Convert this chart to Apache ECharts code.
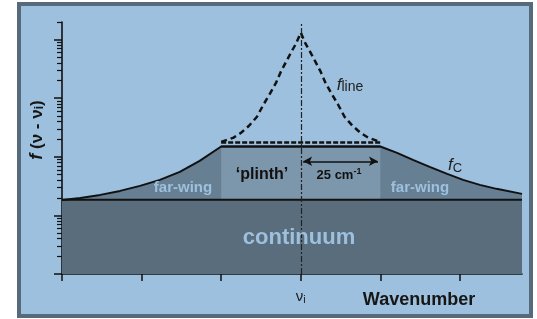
<!DOCTYPE html>
<html>
<head>
<meta charset="utf-8">
<script src="https://cdn.jsdelivr.net/npm/echarts@6/dist/echarts.min.js"></script>
<style>
  html, body { margin: 0; padding: 0; background: #fff; }
  #chart { width: 537px; height: 319px; }
</style>
</head>
<body>
<div id="chart"></div>
<script>
// wavenumber axis (arbitrary units, one tick per unit, line centre at 3)
const xMax = 5.78
const xTicks = [0, 1, 2, 3, 4, 5]
const lineCentre = 3

// log y axis ticks
const yMin = 1
const yMax = 20000
const majorTicks = [1, 10, 100, 1000, 10000]
const minorTicks = [
  2, 3, 4, 5, 6, 7, 8, 9,
  20, 30, 40, 50, 60, 70, 80, 90,
  200, 300, 400, 500, 600, 700, 800, 900,
  2000, 3000, 4000, 5000, 6000, 7000, 8000, 9000,
  20000,
]

// continuum level
const continuumX = [0, 5.78]
const continuumY = [18.5, 18.5]

// f_c : far-wing curve + plinth top
const fcX = [0, 0.23, 0.48, 0.73, 0.98, 1.23, 1.48, 1.73, 2.0, 4.0, 4.21, 4.41, 4.62, 4.84, 5.04, 5.25, 5.46, 5.78]
const fcY = [18.4, 19.9, 22.4, 26.2, 31.9, 40.4, 55.4, 85.5, 150, 150, 117, 88.9, 67.5, 51.2, 40.4, 33.2, 28.4, 23.3]

// plinth block
const plinthX = [2.0, 4.0]
const plinthY = [150, 150]

// dashed shoulder of f_line
const shoulderX = [2.0, 4.0]
const shoulderY = [176, 176]

// f_line peak
const lineX = [
  2.0, 2.15, 2.25, 2.35, 2.45, 2.53, 2.62, 2.69, 2.75, 2.81, 2.87, 2.94,
  3.0,
  3.06, 3.13, 3.19, 3.25, 3.31, 3.38, 3.47, 3.55, 3.65, 3.75, 3.85, 4.0,
]
const lineY = [
  180, 211, 257, 339, 483, 774, 1242, 1840, 2840, 4050, 5770, 8550,
  13180,
  8550, 5770, 4050, 2840, 1840, 1242, 774, 483, 339, 257, 211, 180,
]

// 25 cm-1 arrow
const arrowX = [3.03, 3.97]
const arrowY = 84

const zip = (xs, ys) => xs.map((x, i) => [x, ys[i]])

const FONT = 'Liberation Sans, Arial, sans-serif'
const frameBlue = '#9cc0dd'
const colors = {
  continuum: '#5a6d7d',
  farWing: '#677f93',
  plinth: '#7c96ab',
  border: '#566a7b',
}

const chart = echarts.init(document.getElementById('chart'))

chart.setOption({
  animation: false,
  backgroundColor: '#fff',
  grid: { left: 62, right: 15, top: 22, bottom: 45, containLabel: false, outerBoundsMode: 'none' },
  xAxis: {
    type: 'value',
    min: 0,
    max: xMax,
    name: 'Wavenumber',
    nameLocation: 'middle',
    nameGap: 17,
    nameMoveOverlap: false,
    nameTextStyle: {
      fontFamily: FONT,
      fontSize: 18,
      fontWeight: 'bold',
      color: '#161616',
      padding: [0, 0, 0, 254],
    },
    axisLine: { lineStyle: { color: '#111', width: 1.6 } },
    axisTick: {
      customValues: xTicks,
      length: 7,
      lineStyle: { color: '#111', width: 1.5 },
    },
    axisLabel: {
      customValues: [lineCentre],
      margin: 14,
      formatter: () => '{n|ν}{s|i}',
      rich: {
        n: { fontFamily: FONT, fontSize: 15, color: '#222' },
        s: { fontFamily: FONT, fontSize: 11, color: '#222', padding: [6, 0, 0, 0] },
      },
    },
    splitLine: { show: false },
  },
  yAxis: [
    {
      type: 'log',
      logBase: 10,
      min: yMin,
      max: yMax,
      position: 'left',
      name: '{fi|f} (ν - ν{s|i})',
      nameLocation: 'middle',
      nameGap: 16,
      nameMoveOverlap: false,
      nameTextStyle: {
        fontFamily: FONT,
        fontSize: 17,
        fontWeight: 'bold',
        color: '#161616',
        padding: [0, 0, 0, 36],
        rich: {
          fi: { fontFamily: FONT, fontSize: 18, fontWeight: 'bold', fontStyle: 'italic', color: '#161616' },
          s: { fontFamily: FONT, fontSize: 12, fontWeight: 'bold', color: '#161616', padding: [6, 0, 0, 0] },
        },
      },
      axisLine: { show: true, lineStyle: { color: '#111', width: 1.6 } },
      axisTick: {
        customValues: majorTicks,
        length: 8,
        lineStyle: { color: '#111', width: 1.5 },
      },
      axisLabel: { show: false },
      splitLine: { show: false },
    },
    {
      type: 'log',
      logBase: 10,
      min: yMin,
      max: yMax,
      position: 'left',
      axisLine: { show: false },
      axisTick: {
        show: true,
        customValues: minorTicks,
        length: 5,
        lineStyle: { color: '#111', width: 1.2 },
      },
      axisLabel: { show: false },
      splitLine: { show: false },
    },
  ],
  series: [
    {
      name: 'f_c',
      type: 'line',
      data: zip(fcX, fcY),
      showSymbol: false,
      lineStyle: { color: '#111', width: 2 },
      areaStyle: { color: colors.farWing, opacity: 1, origin: 'start' },
    },
    {
      name: 'plinth',
      type: 'line',
      data: zip(plinthX, plinthY),
      showSymbol: false,
      lineStyle: { color: '#111', width: 2 },
      areaStyle: { color: colors.plinth, opacity: 1, origin: 'start' },
    },
    {
      name: 'continuum',
      type: 'line',
      data: zip(continuumX, continuumY),
      showSymbol: false,
      lineStyle: { color: '#111', width: 2 },
      areaStyle: { color: colors.continuum, opacity: 1, origin: 'start' },
    },
    {
      name: 'shoulder',
      type: 'line',
      data: zip(shoulderX, shoulderY),
      showSymbol: false,
      lineStyle: { color: '#111', width: 2.5, type: [5, 2] },
    },
    {
      name: 'f_line',
      type: 'line',
      data: zip(lineX, lineY),
      showSymbol: false,
      lineStyle: { color: '#111', width: 2.5, type: [6, 4] },
      markLine: {
        silent: true,
        symbol: 'none',
        label: { show: false },
        lineStyle: { color: '#222', width: 1.2, type: [6, 2, 2, 2] },
        data: [{ xAxis: lineCentre }],
      },
    },
    {
      name: 'arrow',
      type: 'line',
      data: [],
      markLine: {
        silent: true,
        symbol: ['arrow', 'arrow'],
        symbolSize: [7, 9],
        label: { show: false },
        lineStyle: { color: '#111', width: 1.5, type: 'solid' },
        data: [[{ coord: [arrowX[0], arrowY] }, { coord: [arrowX[1], arrowY] }]],
      },
    },
  ],
  graphic: [
    {
      type: 'rect',
      z: -10,
      shape: { x: 19, y: 4, width: 512, height: 312 },
      style: { fill: frameBlue, stroke: colors.border, lineWidth: 4 },
    },
    {
      type: 'text', z: 100, x: 183, y: 188,
      style: { text: 'far-wing', font: 'bold 15px ' + FONT, fill: frameBlue, align: 'center', verticalAlign: 'middle' },
    },
    {
      type: 'text', z: 100, x: 420, y: 188,
      style: { text: 'far-wing', font: 'bold 15px ' + FONT, fill: frameBlue, align: 'center', verticalAlign: 'middle' },
    },
    {
      type: 'text', z: 100, x: 262, y: 175,
      style: { text: '‘plinth’', font: 'bold 16px ' + FONT, fill: '#111', align: 'center', verticalAlign: 'middle' },
    },
    {
      type: 'text', z: 100, x: 339, y: 175,
      style: {
        text: '{a|25 cm}{b|-1}',
        align: 'center',
        verticalAlign: 'middle',
        rich: {
          a: { font: 'bold 13px ' + FONT, fill: '#111' },
          b: { font: 'bold 9px ' + FONT, fill: '#111', padding: [0, 0, 6, 0] },
        },
      },
    },
    {
      type: 'text', z: 100, x: 299, y: 238,
      style: { text: 'continuum', font: 'bold 22px ' + FONT, fill: frameBlue, align: 'center', verticalAlign: 'middle' },
    },
    {
      type: 'text', z: 100, x: 350, y: 85,
      style: {
        text: '{f|f}{l|line}',
        align: 'center',
        verticalAlign: 'middle',
        rich: {
          f: { font: 'italic 17px ' + FONT, fill: '#222' },
          l: { font: '14px ' + FONT, fill: '#222', padding: [4, 0, 0, 0] },
        },
      },
    },
    {
      type: 'text', z: 100, x: 455, y: 165,
      style: {
        text: '{f|f}{c|C}',
        align: 'center',
        verticalAlign: 'middle',
        rich: {
          f: { font: 'italic 17px ' + FONT, fill: '#222' },
          c: { font: '13px ' + FONT, fill: '#222', padding: [6, 0, 0, 0] },
        },
      },
    },
  ],
})
</script>
</body>
</html>
